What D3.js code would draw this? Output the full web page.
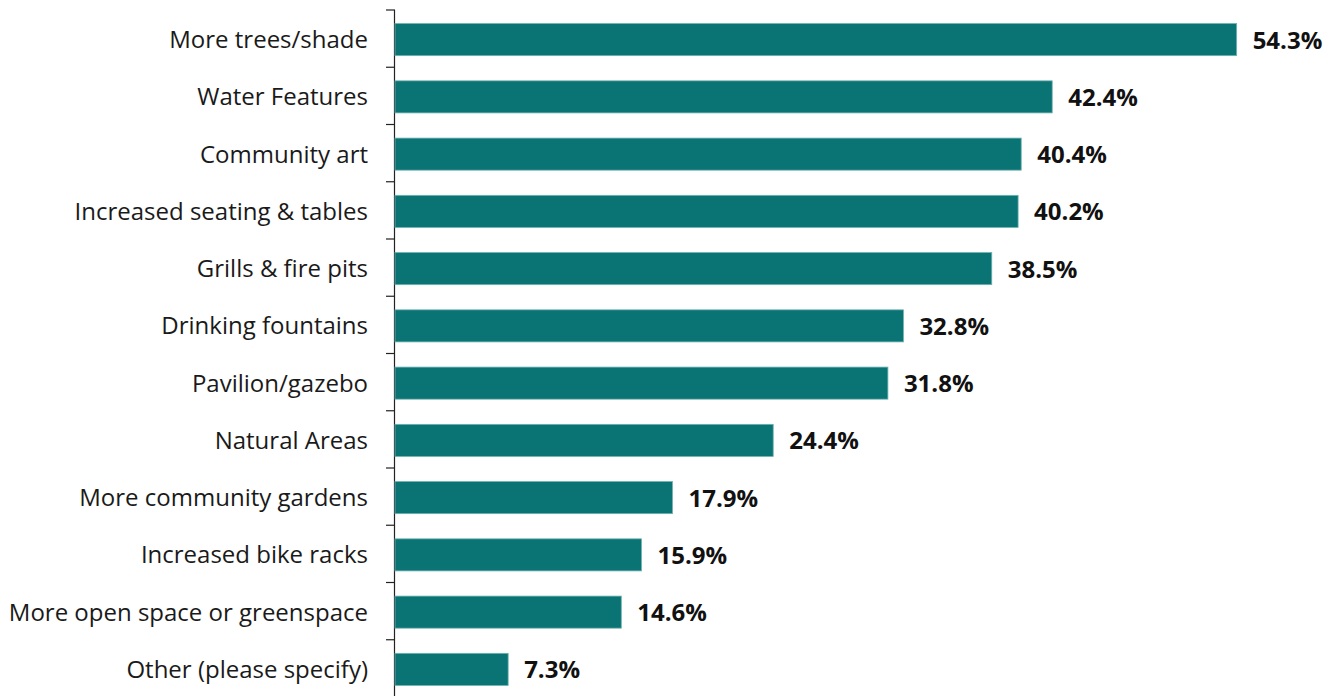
<!DOCTYPE html>
<html><head><meta charset="utf-8">
<script src="https://cdn.jsdelivr.net/npm/d3@7"></script>
<style>body{margin:0;background:#fff}svg{display:block}</style>
</head><body>
<script>
const categories = ["More trees/shade","Water Features","Community art","Increased seating & tables","Grills & fire pits","Drinking fountains","Pavilion/gazebo","Natural Areas","More community gardens","Increased bike racks","More open space or greenspace","Other (please specify)"];
const values = [54.3,42.4,40.4,40.2,38.5,32.8,31.8,24.4,17.9,15.9,14.6,7.3];

const W=1336,H=696;
const svg=d3.select("body").append("svg").attr("width",W).attr("height",H);
const x0=395;
const x=d3.scaleLinear().domain([0,60]).range([x0,x0+930]);
const y=d3.scaleBand().domain(categories).range([11,698]).paddingInner(0.44).paddingOuter(0.22);

svg.append("line").attr("x1",x0-0.5).attr("x2",x0-0.5).attr("y1",10).attr("y2",697).attr("stroke","#222").attr("stroke-width",1.2);
const bounds=d3.range(categories.length+1).map(i=>10+i*(687/categories.length));
svg.selectAll("line.tk").data(bounds).join("line").attr("class","tk")
  .attr("x1",x0-9).attr("x2",x0).attr("y1",d=>d).attr("y2",d=>d).attr("stroke","#222").attr("stroke-width",1.2);

svg.selectAll("rect.bar").data(values).join("rect").attr("class","bar")
  .attr("x",x(0)).attr("y",(d,i)=>y(categories[i])).attr("width",d=>x(d)-x(0)).attr("height",y.bandwidth())
  .attr("fill","#0a7475").attr("stroke","#6fb0b0").attr("stroke-width",0.8);

svg.selectAll("text.cat").data(categories).join("text").attr("class","cat")
  .attr("x",368).attr("y",d=>y(d)+y.bandwidth()/2).attr("dy","0.35em").attr("text-anchor","end")
  .attr("font-family","Open Sans").attr("font-size",24).attr("fill","#1a1a1a").text(d=>d);

svg.selectAll("text.val").data(values).join("text").attr("class","val")
  .attr("x",d=>x(d)+16).attr("y",(d,i)=>y(categories[i])+y.bandwidth()/2).attr("dy","0.38em")
  .attr("font-family","Open Sans").attr("font-weight","bold").attr("font-size",24).attr("fill","#111").text(d=>d.toFixed(1)+"%");
</script>
</body></html>
